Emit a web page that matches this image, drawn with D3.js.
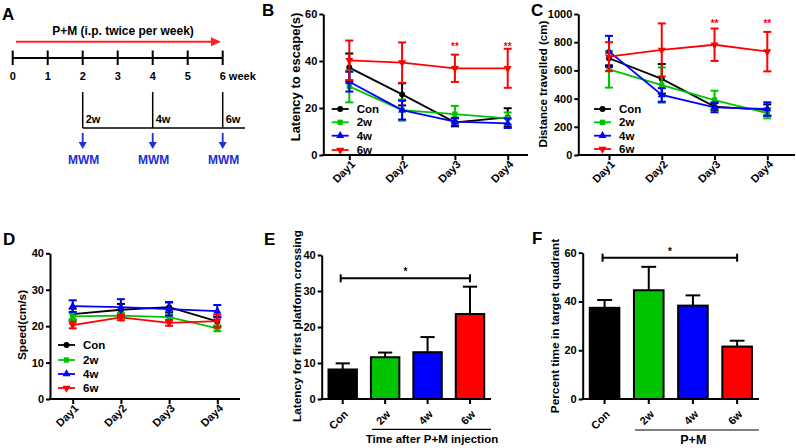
<!DOCTYPE html>
<html>
<head>
<meta charset="utf-8">
<script src="https://cdn.jsdelivr.net/npm/d3@7"></script>
<style>
body { margin: 0; background: #fff; }
svg text { font-family: "Liberation Sans", Arial, sans-serif; font-weight: bold; }
</style>
</head>
<body>
<svg id="fig"></svg>
<script>
var width = 796;
var height = 448;

var days = ["Day1", "Day2", "Day3", "Day4"];
var groups = ["Con", "2w", "4w", "6w"];
var weeks = [0, 1, 2, 3, 4, 5, 6];
var mwmWeeks = [2, 4, 6];

// B: latency to escape (s), mean and error
var escapeCon = [37.2, 25.8, 13.9, 16.0];
var escapeConErr = [6.0, 4.7, 1.7, 3.9];
var escape2w = [29.2, 19.1, 17.4, 15.6];
var escape2wErr = [6.8, 4.5, 3.5, 2.5];
var escape4w = [31.2, 19.1, 14.2, 13.5];
var escape4wErr = [4.2, 4.0, 1.6, 2.0];
var escape6w = [40.3, 39.3, 36.9, 36.9];
var escape6wErr = [8.4, 8.6, 5.8, 8.3];
var escapeTicks = [0, 20, 40, 60];

// C: distance travelled (cm)
var distCon = [686, 540, 343, 319];
var distConErr = [50, 105, 25, 40];
var dist2w = [608, 496, 390, 296];
var dist2wErr = [130, 125, 66, 36];
var dist4w = [735, 426, 338, 326];
var dist4wErr = [110, 48, 35, 48];
var dist6w = [697, 745, 782, 733];
var dist6wErr = [103, 188, 115, 140];
var distTicks = [0, 200, 400, 600, 800, 1000];

// D: speed (cm/s)
var speedCon = [23.3, 24.5, 25.2, 21.3];
var speedConErr = [1.5, 1.6, 1.4, 1.3];
var speed2w = [22.7, 22.9, 22.5, 19.4];
var speed2wErr = [1.0, 0.8, 0.9, 0.8];
var speed4w = [25.5, 25.2, 24.7, 24.1];
var speed4wErr = [1.6, 2.2, 1.8, 1.7];
var speed6w = [20.3, 22.4, 20.9, 21.4];
var speed6wErr = [0.9, 0.8, 0.8, 1.8];
var speedTicks = [0, 10, 20, 30, 40];

// E: latency for first platform crossing
var crossMean = [8.2, 11.6, 13.0, 23.6];
var crossErr = [1.7, 1.3, 4.2, 7.6];
var crossTicks = [0, 10, 20, 30, 40];

// F: percent time in target quadrant
var quadMean = [37.4, 44.6, 38.3, 21.5];
var quadErr = [3.2, 9.6, 4.2, 2.4];
var quadTicks = [0, 20, 40, 60];

var starDays = ["Day3", "Day4"];

var colors = { "Con": "#000000", "2w": "#00c400", "4w": "#0000ff", "6w": "#ff0000" };
var symbols = { "Con": d3.symbolCircle, "2w": d3.symbolSquare, "4w": d3.symbolTriangle, "6w": d3.symbolTriangle };

var svg = d3.select("#fig").attr("width", width).attr("height", height);

function letter(t, x, y) {
    svg.append("text").attr("x", x).attr("y", y).attr("font-size", 17).text(t);
}

function styleAxis(a, fs) {
    a.selectAll("path,line").attr("stroke", "#000").attr("stroke-width", 2);
    a.selectAll("text").attr("font-size", fs).attr("fill", "#000")
        .attr("font-family", "Liberation Sans, Arial, sans-serif").attr("font-weight", "bold");
}

function marker(g, name, x, y, size) {
    g.append("path")
        .attr("d", d3.symbol().type(symbols[name]).size(size)())
        .attr("transform", "translate(" + x + "," + y + ")" + (name == "6w" ? " rotate(180)" : ""))
        .attr("fill", colors[name]);
}

function yTitle(t, cx, cy, fs) {
    svg.append("text")
        .attr("transform", "translate(" + cx + "," + cy + ") rotate(-90)")
        .attr("text-anchor", "middle").attr("dy", "0.35em")
        .attr("font-size", fs).text(t);
}

// ---- line chart panels (B, C, D)
function linePanel(o) {
    var g = svg.append("g");
    var x = d3.scalePoint().domain(days).range([o.d0, o.d1]);
    var y = d3.scaleLinear().domain([0, o.ymax]).range([o.yb, o.yt]);

    var series = groups.map(function (n, i) { return { name: n, mean: o.means[i], err: o.errs[i] }; });

    series.forEach(function (s) {
        var c = colors[s.name];
        var line = d3.line().x(function (d, i) { return x(days[i]); }).y(function (d) { return y(d); });
        g.append("path").datum(s.mean).attr("d", line).attr("fill", "none")
            .attr("stroke", c).attr("stroke-width", 1.8);
        s.mean.forEach(function (m, i) {
            var cx = x(days[i]);
            var lo = y(m - s.err[i]), hi = y(m + s.err[i]);
            g.append("line").attr("x1", cx).attr("x2", cx).attr("y1", lo).attr("y2", hi)
                .attr("stroke", c).attr("stroke-width", 2);
            [lo, hi].forEach(function (yy) {
                g.append("line").attr("x1", cx - 4).attr("x2", cx + 4).attr("y1", yy).attr("y2", yy)
                    .attr("stroke", c).attr("stroke-width", 2);
            });
            marker(g, s.name, cx, y(m), 28);
        });
    });

    var ya = g.append("g").attr("transform", "translate(" + o.ax + ",0)")
        .call(d3.axisLeft(y).tickValues(o.ticks).tickFormat(d3.format("d"))
            .tickSize(4).tickSizeOuter(0).tickPadding(2));
    styleAxis(ya, 11);
    var xa = g.append("g").attr("transform", "translate(0," + o.yb + ")")
        .call(d3.axisBottom(x).tickSize(5).tickSizeOuter(0));
    xa.select(".domain").remove();
    styleAxis(xa, 11);
    xa.selectAll("text").attr("x", 0).attr("y", 0).attr("dy", 0)
        .attr("text-anchor", "end").attr("transform", "translate(6,10) rotate(-45)");
    g.append("line").attr("x1", o.ax - 1).attr("x2", o.ax1).attr("y1", o.yb).attr("y2", o.yb)
        .attr("stroke", "#000").attr("stroke-width", 2);

    if (o.stars) {
        starDays.forEach(function (d) {
            g.append("text").attr("x", x(d)).attr("y", o.starY).attr("text-anchor", "middle")
                .attr("font-size", 10).attr("font-weight", "normal").attr("fill", "#ff0000").text("**");
        });
    }

    groups.forEach(function (n, i) {
        var ly = o.legY[i];
        g.append("line").attr("x1", o.legX).attr("x2", o.legX + 17).attr("y1", ly).attr("y2", ly)
            .attr("stroke", colors[n]).attr("stroke-width", 1.8);
        marker(g, n, o.legX + 8.5, ly, 28);
        g.append("text").attr("x", o.legX + 25).attr("y", ly).attr("dy", "0.36em")
            .attr("font-size", 11.5).text(n);
    });

    yTitle(o.title, o.tx, o.ty, o.tfs);
}

// ---- bar chart panels (E, F)
function barPanel(o) {
    var g = svg.append("g");
    var x = d3.scaleBand().domain(groups).range([o.ax, o.ax1]).paddingInner(0.33).paddingOuter(0.16);
    var y = d3.scaleLinear().domain([0, o.ymax]).range([o.yb, o.yt]);
    var bw = x.bandwidth();

    groups.forEach(function (n, i) {
        var cx = x(n) + bw / 2;
        var top = y(o.means[i] + o.errs[i]);
        g.append("line").attr("x1", cx).attr("x2", cx).attr("y1", y(o.means[i])).attr("y2", top)
            .attr("stroke", "#000").attr("stroke-width", 2);
        g.append("line").attr("x1", cx - bw / 4).attr("x2", cx + bw / 4).attr("y1", top).attr("y2", top)
            .attr("stroke", "#000").attr("stroke-width", 2);
    });

    g.selectAll("rect").data(o.means).enter().append("rect")
        .attr("x", function (d, i) { return x(groups[i]); })
        .attr("y", function (d) { return y(d); })
        .attr("width", bw)
        .attr("height", function (d) { return o.yb - y(d); })
        .attr("fill", function (d, i) { return colors[groups[i]]; })
        .attr("stroke", "#000").attr("stroke-width", 2);

    var ya = g.append("g").attr("transform", "translate(" + o.ax + ",0)")
        .call(d3.axisLeft(y).tickValues(o.ticks).tickSize(4).tickSizeOuter(0).tickPadding(2));
    styleAxis(ya, 11);
    var xa = g.append("g").attr("transform", "translate(0," + o.yb + ")")
        .call(d3.axisBottom(x).tickSize(5).tickSizeOuter(0));
    xa.select(".domain").remove();
    styleAxis(xa, 11);
    xa.selectAll("text").attr("x", 0).attr("y", 0).attr("dy", 0)
        .attr("text-anchor", "end").attr("transform", "translate(6,16) rotate(-45)");
    g.append("line").attr("x1", o.ax - 1).attr("x2", o.ax1).attr("y1", o.yb).attr("y2", o.yb)
        .attr("stroke", "#000").attr("stroke-width", 2);

    // significance bracket Con vs 6w
    var sx0 = x("Con") + bw / 2 - 2, sx1 = x("6w") + bw / 2;
    g.append("line").attr("x1", sx0).attr("x2", sx1).attr("y1", o.sigY).attr("y2", o.sigY)
        .attr("stroke", "#000").attr("stroke-width", 2);
    [sx0, sx1].forEach(function (sx) {
        g.append("line").attr("x1", sx).attr("x2", sx).attr("y1", o.sigY - 4).attr("y2", o.sigY + 4)
            .attr("stroke", "#000").attr("stroke-width", 2);
    });
    g.append("text").attr("x", (sx0 + sx1) / 2).attr("y", o.sigY - 3).attr("text-anchor", "middle")
        .attr("font-size", 10).attr("font-weight", "normal").text("*");

    // treated groups underline and caption
    g.append("line").attr("x1", x("2w") + 1).attr("x2", o.ax1).attr("y1", o.uY).attr("y2", o.uY)
        .attr("stroke", "#000").attr("stroke-width", 1.2);
    g.append("text").attr("x", o.capX).attr("y", o.uY + 14).attr("text-anchor", "middle")
        .attr("font-size", o.capFs).text(o.caption);

    yTitle(o.title, o.tx, o.ty, 11.8);
}

// ---- A: timeline
(function () {
    var xw = d3.scaleLinear().domain([0, 6]).range([12.7, 222.7]);
    var g = svg.append("g");
    g.append("text").attr("x", 123).attr("y", 35).attr("text-anchor", "middle")
        .attr("font-size", 12).text("P+M (i.p. twice per week)");
    g.append("line").attr("x1", 16).attr("x2", 212).attr("y1", 41.7).attr("y2", 41.7)
        .attr("stroke", "#ff2020").attr("stroke-width", 2);
    g.append("path").attr("d", "M221,41.7 L211,37.2 L211,46.2 Z").attr("fill", "#ff2020");

    g.append("line").attr("x1", xw(0)).attr("x2", xw(6)).attr("y1", 58).attr("y2", 58)
        .attr("stroke", "#000").attr("stroke-width", 2);
    weeks.forEach(function (w) {
        g.append("line").attr("x1", xw(w)).attr("x2", xw(w)).attr("y1", 50.5).attr("y2", 65)
            .attr("stroke", "#000").attr("stroke-width", 2);
        g.append("text").attr("x", xw(w)).attr("y", 79.5).attr("text-anchor", w == 6 ? "start" : "middle")
            .attr("dx", w == 6 ? -3 : 0)
            .attr("font-size", 11).text(w == 6 ? "6 week" : String(w));
    });

    var yb = 128;
    g.append("line").attr("x1", xw(2)).attr("x2", 245).attr("y1", yb).attr("y2", yb)
        .attr("stroke", "#000").attr("stroke-width", 1.5);
    mwmWeeks.forEach(function (w) {
        var cx = xw(w);
        g.append("line").attr("x1", cx).attr("x2", cx).attr("y1", 92).attr("y2", yb)
            .attr("stroke", "#000").attr("stroke-width", 1.5);
        g.append("text").attr("x", cx + 3).attr("y", 123).attr("font-size", 11).text(w + "w");
        g.append("line").attr("x1", cx).attr("x2", cx).attr("y1", 133).attr("y2", 143)
            .attr("stroke", "#1c2fd8").attr("stroke-width", 1.8);
        g.append("path").attr("d", "M" + (cx - 4) + ",142 L" + (cx + 4) + ",142 L" + cx + ",149 Z")
            .attr("fill", "#1c2fd8");
        g.append("text").attr("x", cx + 1).attr("y", 164).attr("text-anchor", "middle")
            .attr("font-size", 12).attr("fill", "#1c2fd8").text("MWM");
    });
})();

letter("A", 2, 20);
letter("B", 262, 16);
letter("C", 531, 16);
letter("D", 3, 245);
letter("E", 264, 245);
letter("F", 532, 244);

linePanel({
    d0: 349.3, d1: 507.7, ax: 323.3, ax1: 528, yb: 155, yt: 14, ymax: 60, ticks: escapeTicks,
    means: [escapeCon, escape2w, escape4w, escape6w],
    errs: [escapeConErr, escape2wErr, escape4wErr, escape6wErr],
    stars: true, starY: 50,
    legX: 331.7, legY: [109, 122.3, 135.7, 150],
    title: "Latency to escape(s)", tx: 295, ty: 77, tfs: 13
});

linePanel({
    d0: 609, d1: 767.3, ax: 578.3, ax1: 795, yb: 155, yt: 14, ymax: 1000, ticks: distTicks,
    means: [distCon, dist2w, dist4w, dist6w],
    errs: [distConErr, dist2wErr, dist4wErr, dist6wErr],
    stars: true, starY: 27,
    legX: 594, legY: [109, 122.3, 135.7, 149],
    title: "Distance travelled (cm)", tx: 543, ty: 84, tfs: 11.6
});

linePanel({
    d0: 72.7, d1: 217.3, ax: 50, ax1: 240, yb: 399, yt: 253.3, ymax: 40, ticks: speedTicks,
    means: [speedCon, speed2w, speed4w, speed6w],
    errs: [speedConErr, speed2wErr, speed4wErr, speed6wErr],
    stars: false,
    legX: 58, legY: [345, 360, 374, 388],
    title: "Speed(cm/s)", tx: 22, ty: 325, tfs: 11.8
});

barPanel({
    ax: 321.7, ax1: 491, yb: 399, yt: 255, ymax: 40, ticks: crossTicks,
    means: crossMean, errs: crossErr,
    sigY: 278.3, uY: 429.3, capX: 432, caption: "Time after P+M injection", capFs: 11.5,
    title: "Latency for first platform crossing", tx: 297, ty: 326
});

barPanel({
    ax: 582.7, ax1: 759, yb: 399, yt: 252.7, ymax: 60, ticks: quadTicks,
    means: quadMean, errs: quadErr,
    sigY: 257.7, uY: 430, capX: 693.3, caption: "P+M", capFs: 12.5,
    title: "Percent time in target quadrant", tx: 555, ty: 326
});
</script>
</body>
</html>
